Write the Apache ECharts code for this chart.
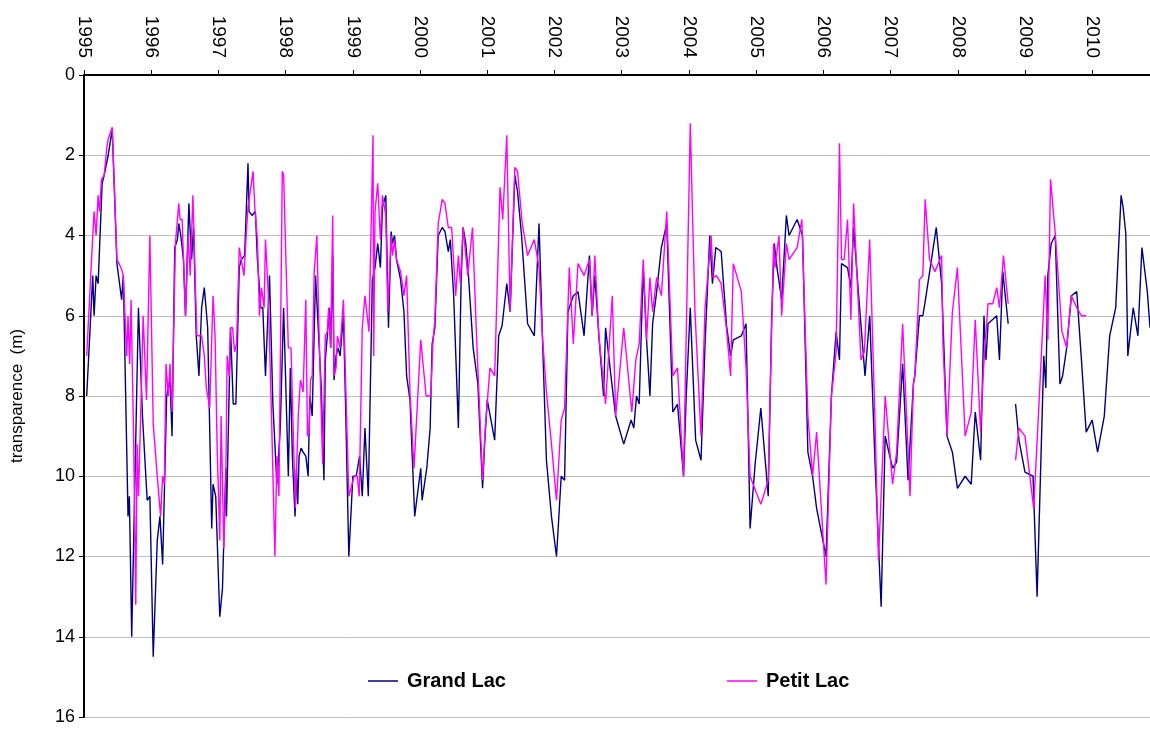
<!DOCTYPE html>
<html>
<head>
<meta charset="utf-8">
<script src="https://cdn.jsdelivr.net/npm/echarts@6/dist/echarts.min.js"></script>
<style>
  html, body { margin: 0; padding: 0; background: #fff; }
  #chart { width: 1150px; height: 729px; }
</style>
</head>
<body>
<div id="chart"></div>
<script>
// transparence (m) - Grand Lac / Petit Lac
const yearTicks = [1995, 1996, 1997, 1998, 1999, 2000, 2001, 2002, 2003, 2004, 2005, 2006, 2007, 2008, 2009, 2010];
const depthTicks = [0, 2, 4, 6, 8, 10, 12, 14, 16];

const grandLacDates = [
  1995.04, 1995.13, 1995.15, 1995.18, 1995.21, 1995.27, 1995.30, 1995.36, 1995.42, 1995.49, 1995.56, 1995.585, 1995.655, 1995.675, 1995.71, 1995.81, 1995.87, 1995.94, 1995.98,
  1996.03, 1996.09, 1996.13, 1996.17, 1996.23, 1996.28, 1996.31, 1996.35, 1996.39, 1996.41, 1996.44, 1996.48, 1996.51, 1996.56, 1996.60, 1996.63, 1996.67, 1996.71, 1996.75, 1996.79, 1996.84, 1996.90, 1996.92, 1996.96,
  1997.02, 1997.06, 1997.11, 1997.12, 1997.18, 1997.22, 1997.26, 1997.31, 1997.34, 1997.39, 1997.44, 1997.455, 1997.50, 1997.55, 1997.58, 1997.63, 1997.66, 1997.70, 1997.76, 1997.81, 1997.87, 1997.92, 1997.97,
  1998.04, 1998.07, 1998.10, 1998.14, 1998.16, 1998.18, 1998.20, 1998.23, 1998.26, 1998.30, 1998.335, 1998.36, 1998.395, 1998.445, 1998.47, 1998.494, 1998.53, 1998.57, 1998.59, 1998.62, 1998.65, 1998.67, 1998.70, 1998.72, 1998.75, 1998.78, 1998.81, 1998.86, 1998.89, 1998.94,
  1999.00, 1999.05, 1999.10, 1999.14, 1999.18, 1999.23, 1999.29, 1999.33, 1999.37, 1999.41, 1999.44, 1999.49, 1999.53, 1999.57, 1999.59, 1999.62, 1999.65, 1999.71, 1999.76, 1999.80, 1999.85, 1999.92,
  2000.01, 2000.03, 2000.10, 2000.15, 2000.18, 2000.22, 2000.27, 2000.33, 2000.37, 2000.42, 2000.45, 2000.50, 2000.57, 2000.61, 2000.64, 2000.68, 2000.72, 2000.79, 2000.86, 2000.93, 2000.96,
  2001.00, 2001.11, 2001.17, 2001.22, 2001.29, 2001.34, 2001.41, 2001.45, 2001.51, 2001.60, 2001.70, 2001.77, 2001.82, 2001.88, 2001.955,
  2002.03, 2002.10, 2002.15, 2002.20, 2002.28, 2002.35, 2002.44, 2002.52, 2002.56, 2002.60, 2002.66, 2002.73, 2002.76, 2002.84, 2002.91,
  2003.03, 2003.14, 2003.18, 2003.22, 2003.26, 2003.32, 2003.37, 2003.42, 2003.46, 2003.52, 2003.59, 2003.67, 2003.76, 2003.83, 2003.92, 2003.96,
  2004.02, 2004.10, 2004.18, 2004.24, 2004.31, 2004.35, 2004.40, 2004.48, 2004.56, 2004.62, 2004.66, 2004.78, 2004.85, 2004.91, 2004.985,
  2005.07, 2005.18, 2005.23, 2005.27, 2005.31, 2005.38, 2005.45, 2005.49, 2005.61, 2005.69, 2005.77, 2005.84, 2005.90,
  2006.04, 2006.12, 2006.19, 2006.24, 2006.27, 2006.36, 2006.41, 2006.45, 2006.53, 2006.62, 2006.69, 2006.77, 2006.86, 2006.92,
  2007.03, 2007.09, 2007.18, 2007.26, 2007.34, 2007.36, 2007.43, 2007.48, 2007.51, 2007.60, 2007.68, 2007.76, 2007.84, 2007.92, 2007.995,
  2008.11, 2008.20, 2008.26, 2008.34, 2008.39, 2008.42, 2008.45, 2008.58, 2008.62, 2008.67, 2008.75, 2008.80, 2008.86, 2008.91,
  2009.00, 2009.12, 2009.18, 2009.28, 2009.31, 2009.34, 2009.39, 2009.45, 2009.52, 2009.56, 2009.62, 2009.69, 2009.77, 2009.84, 2009.91,
  2010.00, 2010.08, 2010.18, 2010.26, 2010.35, 2010.43, 2010.46, 2010.50, 2010.53, 2010.61, 2010.68, 2010.74, 2010.82, 2010.86
];
const grandLacDepth = [
  8.0, 5.0, 6.0, 5.0, 5.2, 2.7, 2.5, 2.0, 1.35, 4.7, 5.6, 5.0, 11.0, 10.5, 14.0, 5.8, 8.5, 10.6, 10.5,
  14.5, 11.6, 11.0, 12.2, 8.0, 7.6, 9.0, 4.3, 4.1, 3.7, 4.0, 4.6, 6.0, 3.2, 4.6, 3.8, 6.5, 7.5, 5.8, 5.3, 6.3, 11.3, 10.2, 10.5,
  13.5, 12.8, 9.8, 11.0, 6.3, 8.2, 8.2, 4.8, 4.6, 4.5, 2.2, 3.4, 3.5, 3.4, 4.6, 5.8, 5.8, 7.5, 5.0, 8.2, 10.2, 8.8, 5.8,
  10.0, 7.3, 9.5, 11.0, 9.8, 10.7, 9.5, 9.3, 9.4, 9.5, 10.0, 8.0, 8.5, 5.0, 5.0, 6.6, 7.8, 10.1, 7.1, 6.5, 5.8, 6.8, 4.5, 7.6, 7.0, 6.8, 7.0, 6.0, 8.1, 12.0,
  10.0, 10.0, 9.5, 10.5, 8.8, 10.5, 5.1, 4.8, 4.2, 4.8, 3.3, 3.0, 6.3, 3.9, 4.2, 4.0, 4.6, 5.1, 5.9, 7.5, 8.1, 11.0,
  9.8, 10.6, 9.8, 8.8, 6.7, 6.3, 4.0, 3.8, 3.9, 4.4, 4.1, 5.5, 8.8, 5.2, 3.8, 4.2, 5.0, 6.8, 7.7, 10.3, 9.2,
  8.1, 9.1, 6.5, 6.25, 5.2, 5.9, 2.5, 2.9, 4.0, 6.2, 6.5, 3.7, 6.5, 9.6, 11.0,
  12.0, 10.0, 10.1, 5.9, 5.5, 5.4, 6.5, 4.5, 6.0, 5.0, 6.5, 8.0, 6.3, 7.5, 8.5,
  9.2, 8.6, 8.8, 8.0, 8.2, 4.8, 6.6, 8.0, 6.2, 5.4, 4.3, 3.7, 8.4, 8.2, 10.0, 8.0,
  5.8, 9.1, 9.6, 6.7, 4.0, 5.2, 4.3, 4.4, 6.25, 7.0, 6.6, 6.5, 6.2, 11.3, 9.7,
  8.3, 10.5, 6.1, 4.2, 4.8, 5.6, 3.5, 4.0, 3.6, 4.0, 9.4, 10.0, 10.8,
  12.0, 8.0, 6.4, 7.1, 4.7, 4.8, 5.3, 3.8, 5.6, 7.5, 6.0, 9.7, 13.25, 9.0,
  9.8, 9.65, 7.2, 10.1, 7.7, 7.5, 6.0, 6.0, 5.7, 4.7, 3.8, 5.2, 9.0, 9.4, 10.3,
  10.0, 10.2, 8.4, 9.6, 6.0, 7.1, 6.2, 6.0, 7.1, 4.9, 6.2, null, 8.2, 9.1,
  9.9, 10.0, 13.0, 7.0, 7.8, 5.0, 4.2, 4.0, 7.7, 7.5, 6.8, 5.5, 5.4, 7.1, 8.9,
  8.6, 9.4, 8.5, 6.5, 5.8, 3.0, 3.3, 3.95, 7.0, 5.8, 6.5, 4.3, 5.4, 6.3
];

const petitLacDates = [
  1995.04, 1995.10, 1995.15, 1995.18, 1995.21, 1995.23, 1995.26, 1995.30, 1995.34, 1995.36, 1995.42, 1995.49, 1995.55, 1995.585, 1995.635, 1995.655, 1995.68, 1995.70, 1995.74, 1995.77, 1995.79, 1995.81, 1995.84, 1995.88, 1995.93, 1995.98,
  1996.03, 1996.09, 1996.14, 1996.17, 1996.195, 1996.22, 1996.255, 1996.28, 1996.31, 1996.36, 1996.41, 1996.43, 1996.46, 1996.51, 1996.55, 1996.58, 1996.62, 1996.66, 1996.68, 1996.75, 1996.79, 1996.82, 1996.87, 1996.885, 1996.92, 1996.95, 1996.98,
  1997.02, 1997.04, 1997.08, 1997.11, 1997.13, 1997.16, 1997.18, 1997.21, 1997.24, 1997.27, 1997.31, 1997.34, 1997.38, 1997.42, 1997.44, 1997.465, 1997.515, 1997.545, 1997.58, 1997.61, 1997.64, 1997.68, 1997.70, 1997.74, 1997.79, 1997.84, 1997.87, 1997.90, 1997.95, 1997.97,
  1998.04, 1998.08, 1998.115, 1998.145, 1998.19, 1998.22, 1998.26, 1998.30, 1998.325, 1998.35, 1998.37, 1998.395, 1998.425, 1998.465, 1998.494, 1998.55, 1998.59, 1998.62, 1998.64, 1998.67, 1998.70, 1998.72, 1998.75, 1998.77, 1998.81, 1998.86, 1998.89, 1998.94,
  1999.02, 1999.065, 1999.095, 1999.14, 1999.18, 1999.24, 1999.30, 1999.31, 1999.33, 1999.37, 1999.41, 1999.44, 1999.49, 1999.52, 1999.57, 1999.59, 1999.62, 1999.65, 1999.71, 1999.76, 1999.80, 1999.85, 1999.91,
  2000.01, 2000.09, 2000.16, 2000.19, 2000.22, 2000.27, 2000.33, 2000.37, 2000.42, 2000.47, 2000.53, 2000.57, 2000.60, 2000.64, 2000.71, 2000.78, 2000.84, 2000.93, 2000.97,
  2001.04, 2001.11, 2001.19, 2001.23, 2001.29, 2001.34, 2001.41, 2001.45, 2001.52, 2001.60, 2001.70, 2001.77, 2001.82, 2001.88, 2001.955,
  2002.03, 2002.10, 2002.15, 2002.22, 2002.28, 2002.35, 2002.44, 2002.52, 2002.56, 2002.60, 2002.66, 2002.76, 2002.86, 2002.91,
  2003.03, 2003.15, 2003.21, 2003.26, 2003.32, 2003.37, 2003.42, 2003.46, 2003.52, 2003.59, 2003.67, 2003.76, 2003.83, 2003.92,
  2004.02, 2004.09, 2004.18, 2004.24, 2004.33, 2004.36, 2004.41, 2004.48, 2004.56, 2004.62, 2004.66, 2004.78, 2004.85, 2004.91,
  2005.00, 2005.07, 2005.18, 2005.26, 2005.28, 2005.34, 2005.38, 2005.45, 2005.49, 2005.61, 2005.68, 2005.77, 2005.84, 2005.90,
  2006.04, 2006.12, 2006.19, 2006.24, 2006.27, 2006.31, 2006.36, 2006.41, 2006.45, 2006.56, 2006.61, 2006.69, 2006.77, 2006.82, 2006.92,
  2007.03, 2007.09, 2007.18, 2007.29, 2007.34, 2007.36, 2007.43, 2007.48, 2007.515, 2007.58, 2007.66, 2007.76, 2007.78, 2007.84, 2007.92, 2007.995,
  2008.11, 2008.20, 2008.26, 2008.34, 2008.38, 2008.45, 2008.52, 2008.58, 2008.62, 2008.68, 2008.75, 2008.80, 2008.86, 2008.91,
  2009.00, 2009.13, 2009.22, 2009.30, 2009.34, 2009.38, 2009.45, 2009.55, 2009.62, 2009.69, 2009.77, 2009.84, 2009.91
];
const petitLacDepth = [
  7.0, 5.0, 3.4, 4.0, 3.0, 3.4, 2.6, 2.5, 1.8, 1.6, 1.3, 4.6, 4.8, 5.0, 7.0, 6.0, 7.2, 5.6, 9.2, 13.2, 9.2, 10.5, 8.7, 6.0, 8.1, 4.0,
  8.7, 10.0, 11.0, 10.0, 10.2, 7.2, 8.0, 7.2, 8.4, 4.2, 3.2, 3.6, 3.6, 6.0, 4.0, 5.0, 3.0, 5.4, 6.5, 6.5, 7.0, 7.8, 8.3, 8.3, 5.5, 6.5, 9.2,
  11.6, 8.5, 11.8, 10.0, 7.0, 7.5, 6.3, 6.3, 6.9, 6.7, 4.3, 4.6, 5.0, 3.8, 3.3, 3.3, 2.4, 3.4, 4.1, 6.0, 5.3, 5.8, 4.1, 5.4, 8.5, 12.0, 9.5, 10.5, 2.4, 2.5,
  6.8, 6.8, 9.0, 10.8, 8.4, 7.6, 7.9, 5.6, 9.0, 8.9, 7.6, 7.5, 4.9, 4.0, 6.2, 9.7, 6.5, 6.4, 5.8, 6.8, 3.5, 7.5, 7.3, 6.5, 6.8, 5.6, 7.5, 10.5,
  10.0, 10.0, 10.5, 6.3, 5.5, 6.4, 1.5, 7.0, 3.4, 2.7, 4.1, 3.0, 3.5, 5.9, 4.0, 4.5, 4.1, 4.6, 4.9, 5.5, 5.0, 7.9, 9.8,
  6.6, 8.0, 8.0, 6.7, 6.1, 3.7, 3.1, 3.2, 3.8, 3.8, 5.5, 4.5, 5.2, 3.8, 5.0, 3.8, 6.5, 10.1, 8.8,
  7.3, 7.5, 2.8, 3.6, 1.5, 5.9, 2.3, 2.4, 3.7, 4.5, 4.1, 4.8, 6.5, 7.9, 9.2,
  10.6, 8.6, 8.3, 4.8, 6.7, 4.7, 5.0, 4.6, 6.0, 4.5, 6.5, 8.2, 5.5, 8.5,
  6.3, 8.4, 7.1, 6.7, 4.6, 6.6, 5.05, 5.9, 5.05, 5.5, 3.4, 7.5, 7.3, 10.0,
  1.2, 5.9, 9.0, 5.8, 4.0, 5.05, 5.0, 5.2, 6.35, 7.5, 4.7, 5.4, 7.3, 10.0,
  10.4, 10.7, 10.1, 4.2, 4.8, 4.0, 6.0, 4.2, 4.6, 4.3, 3.6, 8.5, 10.0, 8.9,
  12.7, 8.0, 6.9, 1.7, 4.6, 4.6, 3.6, 6.1, 3.2, 7.1, 6.9, 4.1, 8.7, 12.1, 8.0,
  10.2, 9.4, 6.2, 10.5, 7.7, 7.5, 5.1, 5.0, 3.1, 4.6, 4.9, 4.5, 6.7, 9.0, 5.9, 4.8,
  9.0, 8.4, 6.1, 8.9, 7.4, 5.7, 5.7, 5.3, 5.8, 4.5, 5.7, null, 9.6, 8.8,
  9.0, 10.8, 7.8, 5.0, 6.6, 2.6, 3.95, 6.4, 6.8, 5.5, 5.8, 6.0, 6.0
];

const toPairs = (dates, depths) => dates.map((d, i) => [d, depths[i]]);

const chart = echarts.init(document.getElementById('chart'));
const fontFamily = 'Liberation Sans, Arial, sans-serif';
const lineIcon = 'path://M0,0 L30,0 L30,1.5 L0,1.5 Z';

const legendBase = {
  top: 671, padding: 0,
  icon: lineIcon,
  itemWidth: 30, itemHeight: 1.5, itemGap: 0,
  textStyle: { fontFamily: fontFamily, fontWeight: 'bold', fontSize: 20, color: '#000', padding: [0, 0, 0, 4] }
};

const option = {
  backgroundColor: '#ffffff',
  animation: false,
  grid: { left: 84, top: 75, right: 0, bottom: 12 },
  legend: [
    Object.assign({}, legendBase, { data: ['Grand Lac'], left: 368 }),
    Object.assign({}, legendBase, { data: ['Petit Lac'], left: 727 })
  ],
  xAxis: {
    type: 'value',
    position: 'top',
    min: 1995,
    max: 2010.86,
    interval: 1,
    axisLine: { show: true, onZero: false, lineStyle: { color: '#000', width: 2 } },
    axisTick: { show: true, inside: false, length: 5, customValues: yearTicks, lineStyle: { color: '#000', width: 1 } },
    axisLabel: {
      customValues: yearTicks,
      rotate: 90, margin: 17,
      fontFamily: fontFamily, fontSize: 19, color: '#000',
      formatter: v => String(v)
    },
    splitLine: { show: false }
  },
  yAxis: {
    type: 'value',
    inverse: true,
    min: 0, max: 16, interval: 2,
    name: 'transparence  (m)',
    nameLocation: 'middle',
    nameRotate: 90,
    nameGap: 58,
    nameTextStyle: { fontFamily: fontFamily, fontSize: 17, color: '#000' },
    axisLine: { show: true, lineStyle: { color: '#000', width: 2 } },
    axisTick: { show: true, inside: false, length: 5, lineStyle: { color: '#000', width: 1 } },
    axisLabel: { margin: 9, fontFamily: fontFamily, fontSize: 18, color: '#000' },
    splitLine: { show: true, lineStyle: { color: '#c0c0c0', width: 1 } }
  },
  series: [
    {
      name: 'Grand Lac',
      type: 'line',
      symbol: 'none',
      connectNulls: false,
      color: '#000080',
      lineStyle: { color: '#000080', width: 1.4 },
      data: toPairs(grandLacDates, grandLacDepth)
    },
    {
      name: 'Petit Lac',
      type: 'line',
      symbol: 'none',
      connectNulls: false,
      color: '#ff00ff',
      lineStyle: { color: '#ff00ff', width: 1.4 },
      z: 3,
      data: toPairs(petitLacDates, petitLacDepth)
    }
  ]
};

chart.setOption(option);
</script>
</body>
</html>
